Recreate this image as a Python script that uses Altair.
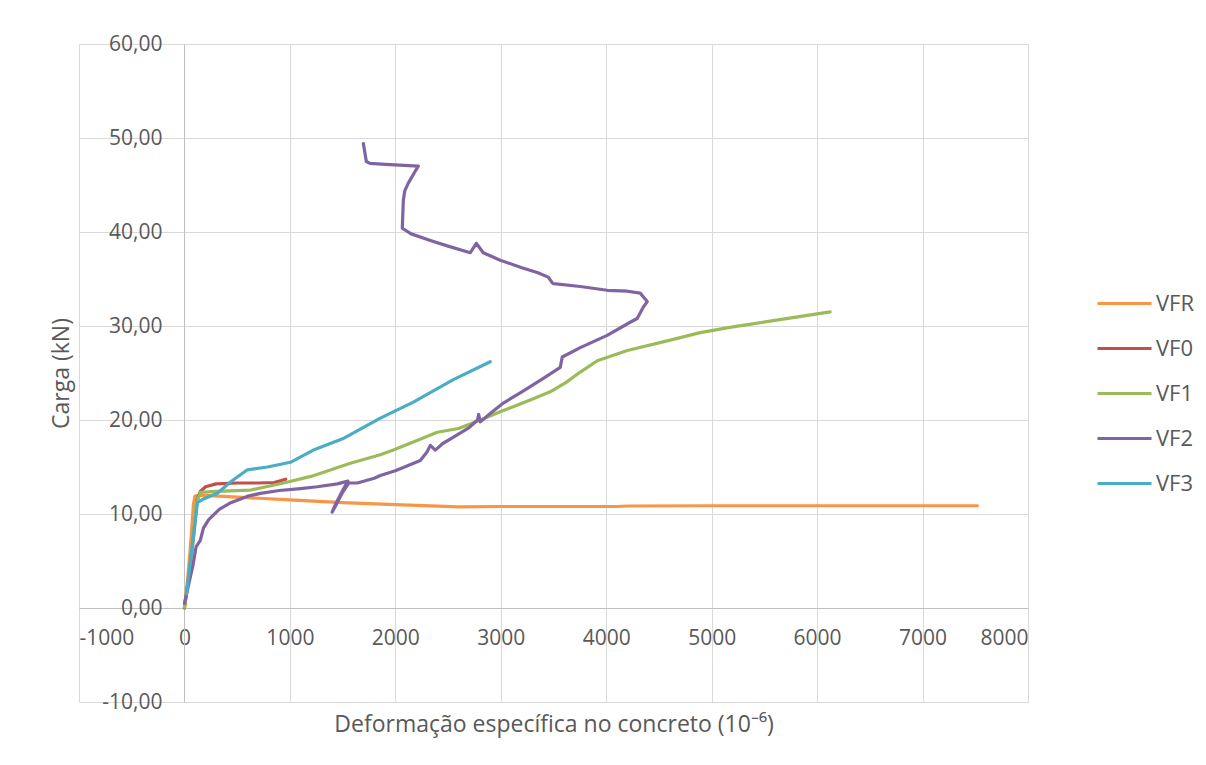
import altair as alt
import pandas as pd

series_names = ["VFR", "VF0", "VF1", "VF2", "VF3"]
series_colors = ["#F79646", "#C0504D", "#9BBB59", "#8064A2", "#4BACC6"]

vfr_x = [0, 30, 60, 85, 100, 150, 500, 1000, 1500, 2000, 2600, 3000, 3500, 4100, 4200, 5000, 6000, 7000, 7520]
vfr_y = [0, 3, 7, 11, 11.9, 12.0, 11.8, 11.5, 11.2, 11.0, 10.75, 10.8, 10.8, 10.8, 10.85, 10.88, 10.88, 10.88, 10.88]

vf0_x = [0, 50, 90, 120, 150, 200, 300, 500, 700, 850, 900, 960]
vf0_y = [0, 4, 8, 11.5, 12.4, 12.9, 13.2, 13.3, 13.3, 13.35, 13.5, 13.7]

vf1_x = [0, 40, 80, 110, 152, 300, 626, 940, 1200, 1573, 1858, 1981, 2200, 2398, 2600, 2806, 3000, 3250, 3469, 3620,
         3754, 3915, 4200, 4607, 4891, 5200, 5600, 6123]
vf1_y = [0.1, 3, 7, 11, 12.3, 12.4, 12.55, 13.3, 14.0, 15.4, 16.3, 16.8, 17.8, 18.7, 19.1, 20.0, 20.9, 22.0, 23.0, 24.0,
         25.1, 26.3, 27.4, 28.5, 29.3, 29.9, 30.6, 31.5]

vf2_x = [0, 30, 80, 110, 150, 180, 230, 330, 440, 600, 720, 900, 1100, 1260, 1450, 1550, 1500, 1440, 1400, 1440,
         1500, 1560, 1640, 1800, 1858, 2000, 2237, 2300, 2332, 2379, 2450, 2540, 2700, 2780, 2790, 2806, 2900, 3024,
         3200, 3400, 3564, 3583, 3754, 4009, 4227, 4294, 4351, 4389, 4322, 4200, 4009, 3754, 3500, 3488, 3450, 3346,
         3200, 2995, 2834, 2768, 2711, 2500, 2332, 2150, 2066, 2076, 2090, 2123, 2180, 2218, 1905, 1760, 1725, 1697]
vf2_y = [0.5, 2, 4.5, 6.5, 7.2, 8.5, 9.4, 10.5, 11.2, 11.9, 12.2, 12.5, 12.7, 12.9, 13.2, 13.5, 12.5, 11.2, 10.2, 11.0,
         12.3, 13.3, 13.3, 13.8, 14.1, 14.6, 15.7, 16.6, 17.3, 16.8, 17.5, 18.1, 19.2, 20.0, 20.6, 19.8, 20.7, 21.8,
         23.0, 24.4, 25.6, 26.7, 27.7, 29.0, 30.4, 30.8, 32.0, 32.6, 33.5, 33.7, 33.8, 34.2, 34.5, 34.6, 35.2, 35.7,
         36.2, 37.0, 37.8, 38.8, 37.8, 38.5, 39.1, 39.8, 40.4, 43.4, 44.4, 45.2, 46.3, 47.0, 47.2, 47.3, 47.5, 49.4]

vf3_x = [20, 57, 100, 123, 180, 313, 436, 597, 787, 1005, 1223, 1500, 1858, 2171, 2550, 2900]
vf3_y = [1.5, 5.1, 9.0, 11.2, 11.6, 12.2, 13.4, 14.7, 15.0, 15.5, 16.8, 18.0, 20.2, 21.9, 24.3, 26.2]

x_ticks = [-1000, 0, 1000, 2000, 3000, 4000, 5000, 6000, 7000, 8000]
y_ticks = [-10, 0, 10, 20, 30, 40, 50, 60]

rows = []
for name, xs, ys in zip(series_names, [vfr_x, vf0_x, vf1_x, vf2_x, vf3_x], [vfr_y, vf0_y, vf1_y, vf2_y, vf3_y]):
    for i, (x, y) in enumerate(zip(xs, ys)):
        rows.append({"serie": name, "x": x, "y": y, "i": i})
df = pd.DataFrame(rows)

FONT = "Open Sans"
TXT = "#595959"
GRID = "#d9d9d9"

W, H = 949, 658
x_off = -round(W * 1000 / 9000)   # move y axis to x=0
y_off = -round(H * 10 / 70)       # move x axis to y=0

chart = alt.Chart(df).mark_line(strokeWidth=3.2, strokeCap="round", strokeJoin="round").encode(
    x=alt.X("x:Q", scale=alt.Scale(domain=[-1000, 8000], nice=False, zero=False),
            axis=alt.Axis(values=x_ticks, title="Deformação específica no concreto (10⁻⁶)",
                          labelExpr="(datum.value < 0 ? '-' : '') + format(abs(datum.value), 'd')",
                          offset=y_off, ticks=False, labelPadding=19, domainColor="#bfbfbf",
                          titleY=116, titleX=W / 2, titleBaseline="middle")),
    y=alt.Y("y:Q", scale=alt.Scale(domain=[-10, 60], nice=False, zero=False),
            axis=alt.Axis(values=y_ticks, title="Carga (kN)",
                          labelExpr="(datum.value < 0 ? '-' : '') + replace(format(abs(datum.value), '.2f'), '.', ',')",
                          offset=x_off, ticks=False, labelPadding=22, domainColor="#bfbfbf",
                          titleX=-123, titleY=H / 2, titleBaseline="middle", titleAngle=-90)),
    color=alt.Color("serie:N", scale=alt.Scale(domain=series_names, range=series_colors),
                    legend=alt.Legend(title=None, orient="none", legendX=1017, legendY=231,
                                      symbolType="stroke", symbolSize=2916, symbolStrokeWidth=3,
                                      rowPadding=5, labelOffset=3, padding=0)),
    order=alt.Order("i:Q"),
).properties(
    width=W, height=H,
    autosize=alt.AutoSizeParams(type="none"),
    padding={"left": 71, "top": 36, "right": 170, "bottom": 55},
).configure_view(
    stroke=None
).configure_axis(
    labelFont=FONT, titleFont=FONT, labelFontSize=21, titleFontSize=23,
    labelColor=TXT, titleColor=TXT, titleFontWeight="normal",
    gridColor=GRID, gridWidth=1, domainWidth=1,
).configure_legend(
    labelFont=FONT, labelFontSize=22, labelColor=TXT,
)

chart.save("out.html", embed_options={"renderer": "svg", "actions": False})
